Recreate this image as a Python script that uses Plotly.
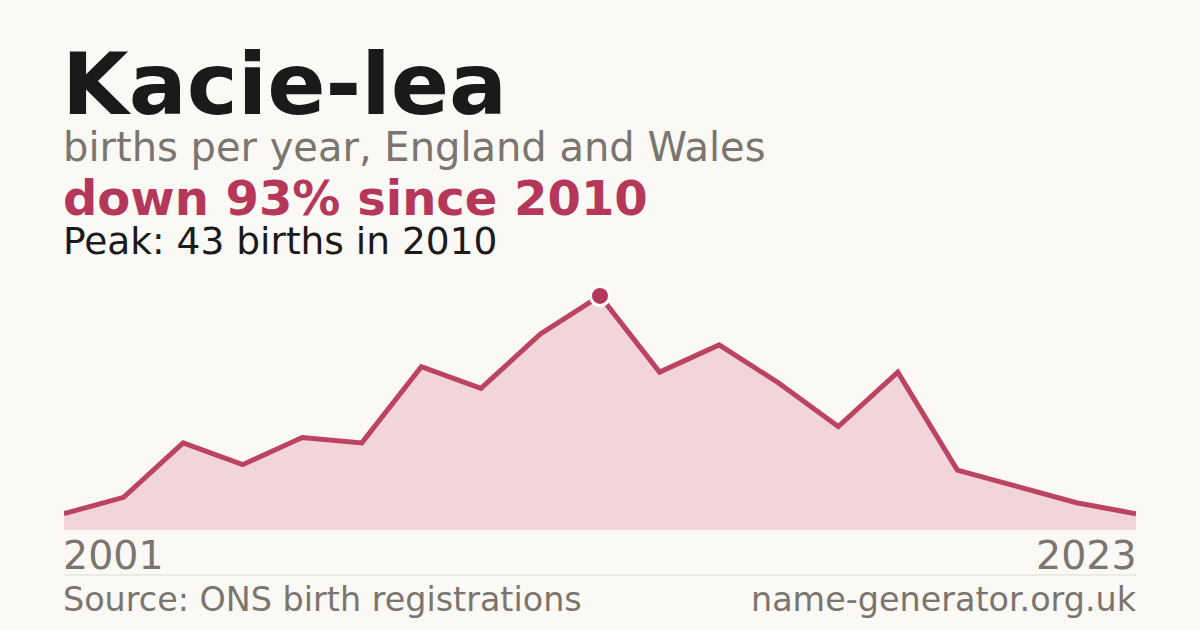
import plotly.graph_objects as go

years = ["2001", "2002", "2003", "2004", "2005", "2006", "2007", "2008", "2009", "2010",
         "2011", "2012", "2013", "2014", "2015", "2017", "2018", "2020", "2023"]
births = [3, 6, 16, 12, 17, 16, 30, 26, 36, 43, 29, 34, 27, 19, 29, 11, 8, 5, 3]

peak_idx = births.index(max(births))
peak_year = years[peak_idx]
peak_val = births[peak_idx]

name = "Kacie-lea"
subtitle = "births per year, England and Wales"
change_text = "down 93% since 2010"
peak_text = f"Peak: {peak_val} births in {peak_year}"
source_text = "Source: ONS birth registrations"
site_text = "name-generator.org.uk"

BG = "#faf9f5"
RED = "#b5385a"
LINE = "rgba(184,58,90,0.95)"
FILL = "#f1d5da"
DARK = "#1a1a1a"
GREY = "#7a756e"

W, H = 1200, 630
PL, PR, PT, PB = 64, 64, 285, 100
plot_h = H - PT - PB

def py(ypix):
    return (H - PB - ypix) / plot_h

def px(xpix):
    return (xpix - PL) / (W - PL - PR)

fig = go.Figure()
fig.add_trace(go.Scatter(
    x=years, y=births, mode="lines",
    line=dict(color=LINE, width=5),
    fill="tozeroy", fillcolor=FILL,
    hoverinfo="skip", cliponaxis=False,
))
fig.add_trace(go.Scatter(
    x=[peak_year], y=[peak_val], mode="markers",
    marker=dict(color=RED, size=19, line=dict(color="white", width=3)),
    hoverinfo="skip", cliponaxis=False,
))

font = "DejaVu Sans"
ann = []
def add(text, x, y, size, color, bold=False, xanchor="left"):
    ann.append(dict(
        text=text, x=px(x), y=py(y), xref="paper", yref="paper",
        xanchor=xanchor, yanchor="middle", showarrow=False,
        font=dict(family=font, size=size, color=color, weight=700 if bold else 400),
    ))

add(name, 60, 84, 86, DARK, bold=True)
add(subtitle, 61, 147, 40, GREY)
add(change_text, 61, 198, 48, RED, bold=True)
add(peak_text, 61, 241, 37.5, DARK)
add(years[0], 61, 555, 39.5, GREY)
add(years[-1], 1139, 555, 39.5, GREY, xanchor="right")
add(source_text, 61, 599, 33.4, GREY)
add(site_text, 1139, 599, 33.4, GREY, xanchor="right")

fig.update_layout(
    width=W, height=H,
    margin=dict(l=PL, r=PR, t=PT, b=PB, pad=0),
    paper_bgcolor=BG, plot_bgcolor=BG,
    showlegend=False,
    annotations=ann,
    shapes=[dict(type="line", xref="paper", yref="paper",
                 x0=0, x1=1, y0=py(575), y1=py(575),
                 line=dict(color="#dedbd4", width=1))],
    xaxis=dict(type="category", range=[0, len(years) - 1], visible=False, fixedrange=True),
    yaxis=dict(range=[0, 45], visible=False, fixedrange=True),
)

fig.write_html("out.html", config={"displayModeBar": False},
               post_script="document.body.style.margin='0';document.body.style.overflow='hidden';document.body.style.background='#faf9f5';")
